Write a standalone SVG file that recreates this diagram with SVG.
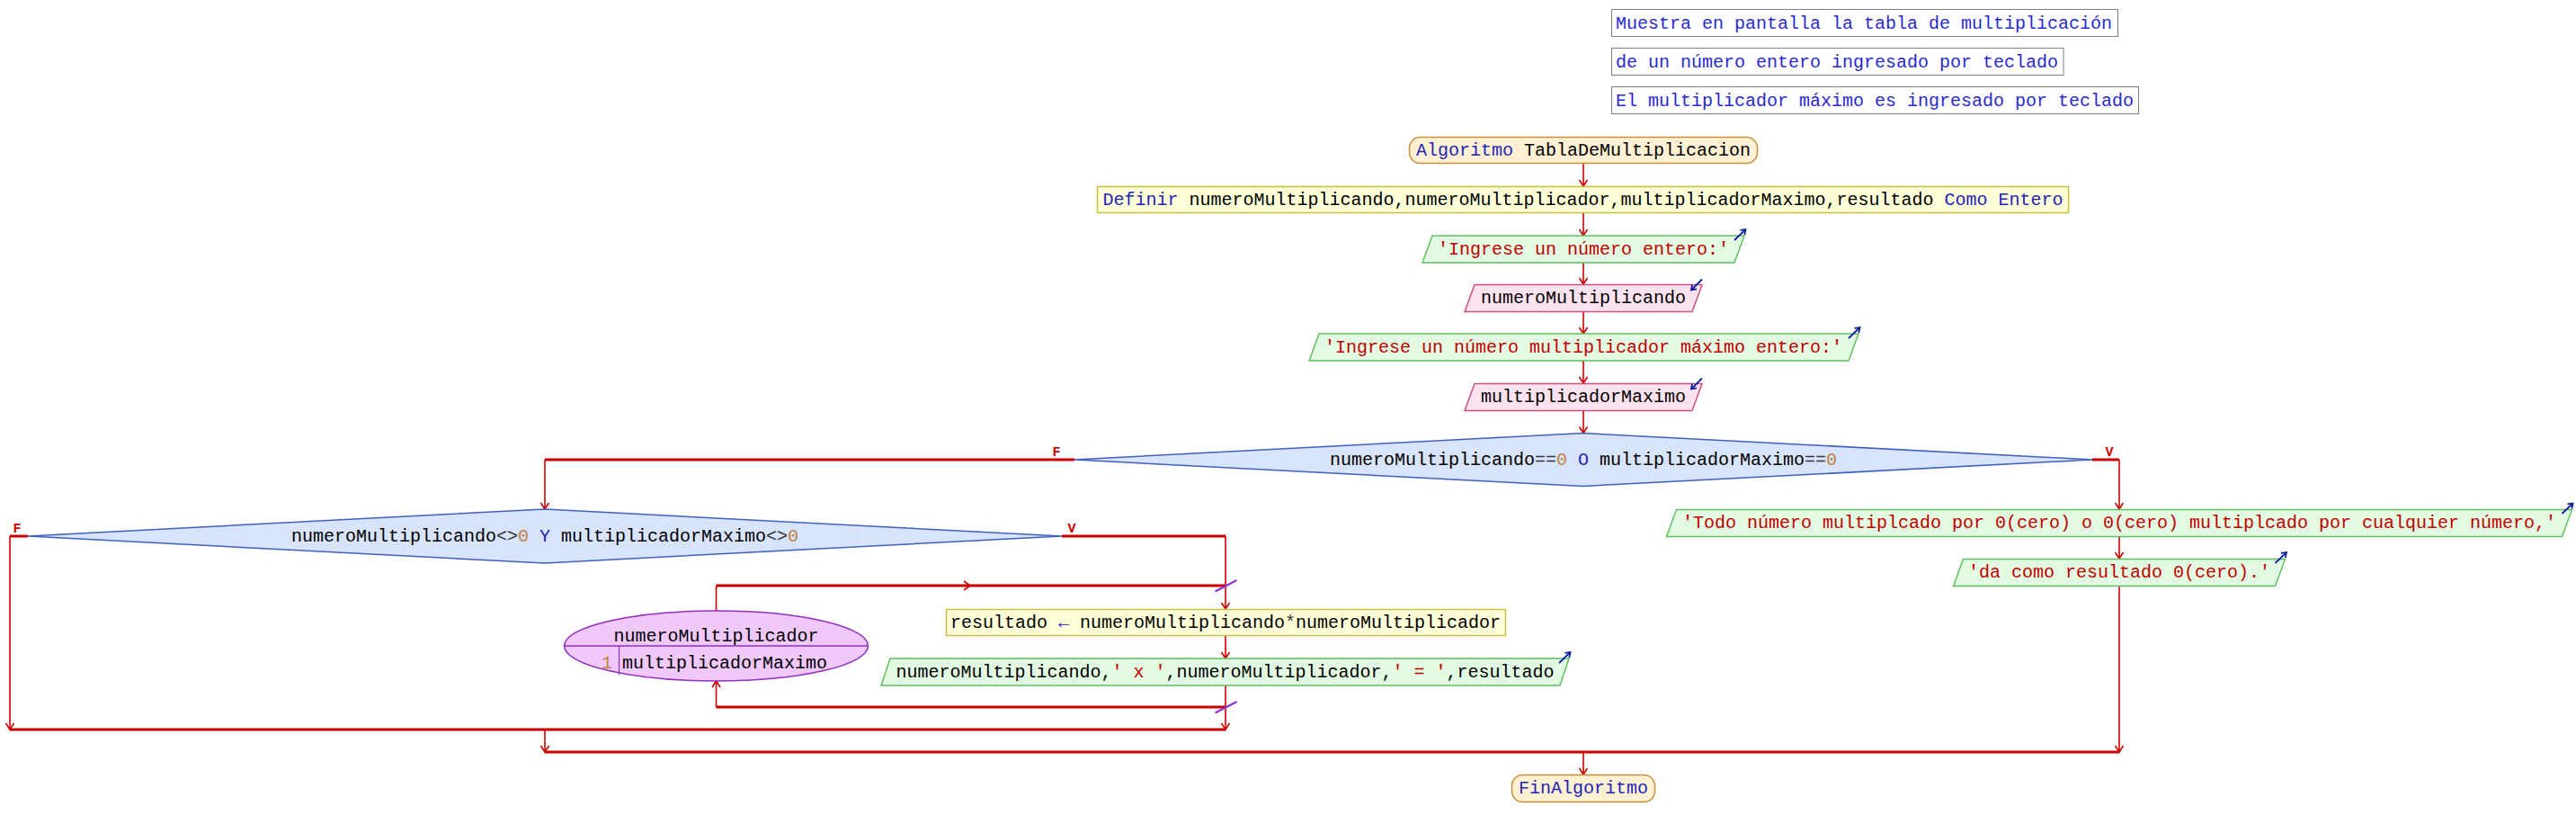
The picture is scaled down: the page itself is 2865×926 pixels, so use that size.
<svg xmlns="http://www.w3.org/2000/svg" width="2865" height="926" viewBox="0 0 2865 926">
<style>
.t{font-family:"Liberation Mono","DejaVu Sans Mono",monospace;font-size:20px;fill:#000}
.m{text-anchor:middle}
.kw{fill:#2424b8}
.st{fill:#c00000}
.nu{fill:#c08040}
.op{fill:#333}
.ar{fill:#2020c0}
.ct{font-family:"Liberation Mono","DejaVu Sans Mono",monospace;font-size:20px;fill:#2a2ad0}
.lb{font-family:"Liberation Mono","DejaVu Sans Mono",monospace;font-size:15px;font-weight:bold;fill:#cc0000;text-anchor:middle}
.cm{fill:#fff;stroke:#808080;stroke-width:1}
.ter{fill:#fff1d2;stroke:#c8903c;stroke-width:1.5}
.asg{fill:#ffffd8;stroke:#c8c040;stroke-width:1.5}
.out{fill:#e2fae2;stroke:#60c060;stroke-width:1.5}
.inp{fill:#fde2ef;stroke:#d05080;stroke-width:1.5}
.dec{fill:#d8e4fc;stroke:#4060c0;stroke-width:1.5}
.lp{fill:#f0c8fc;stroke:#9030c0;stroke-width:1.5}
.h{stroke:#cc0000;stroke-width:3;fill:none}
.v{stroke:#cc0000;stroke-width:1.6;fill:none}
.va{stroke:#cc0000;stroke-width:1.6;fill:none;marker-end:url(#ar)}
.tick{stroke:#9030d0;stroke-width:2}
.ic{stroke:#1020a0;stroke-width:1.8;fill:none;marker-end:url(#ab)}
</style>
<defs>
<marker id="ar" markerUnits="userSpaceOnUse" orient="auto" markerWidth="20" markerHeight="20" refX="0" refY="0" viewBox="-10 -10 20 20" overflow="visible">
<path d="M-7,-4.5 L0,0 L-7,4.5" fill="none" stroke="#cc0000" stroke-width="1.6"/>
</marker>
<marker id="ab" markerUnits="userSpaceOnUse" orient="auto" markerWidth="20" markerHeight="20" refX="0" refY="0" viewBox="-10 -10 20 20" overflow="visible">
<path d="M-5,-3.5 L0,0 L-5,3.5" fill="none" stroke="#1020a0" stroke-width="1.8"/>
</marker>
</defs>
<rect x="0" y="0" width="2865" height="926" fill="#fff"/>

<g id="connectors">
<line class="va" x1="1761" y1="182" x2="1761" y2="207"/>
<line class="va" x1="1761" y1="237" x2="1761" y2="262"/>
<line class="va" x1="1761" y1="292" x2="1761" y2="316"/>
<line class="va" x1="1761" y1="346" x2="1761" y2="371"/>
<line class="va" x1="1761" y1="401" x2="1761" y2="426"/>
<line class="va" x1="1761" y1="456" x2="1761" y2="481.5"/>
<line class="h" x1="1195" y1="511" x2="606" y2="511"/>
<line class="va" x1="606" y1="511" x2="606" y2="566"/>
<line class="h" x1="2327" y1="511" x2="2357" y2="511"/>
<line class="va" x1="2357" y1="511" x2="2357" y2="566"/>
<line class="va" x1="2357" y1="597" x2="2357" y2="621"/>
<line class="va" x1="2357" y1="652" x2="2357" y2="836"/>
<line class="h" x1="31" y1="596" x2="11" y2="596"/>
<line class="va" x1="11" y1="596" x2="11" y2="811"/>
<line class="h" x1="1181" y1="596" x2="1363" y2="596"/>
<line class="va" x1="1363" y1="596" x2="1363" y2="677"/>
<line class="va" x1="1363" y1="707" x2="1363" y2="732"/>
<line class="v" x1="1363" y1="762" x2="1363" y2="786"/>
<line class="va" x1="1363" y1="786" x2="1363" y2="811"/>
<line class="h" x1="1363" y1="786" x2="796.5" y2="786"/>
<line class="va" x1="796.5" y1="786" x2="796.5" y2="757"/>
<line class="v" x1="796.5" y1="679" x2="796.5" y2="651"/>
<line class="h" x1="796.5" y1="651" x2="1363" y2="651"/>
<path class="v" d="M1072,646 L1079,651 L1072,656"/>
<line class="tick" x1="1351.5" y1="657.5" x2="1375.5" y2="645"/>
<line class="tick" x1="1351.5" y1="792.5" x2="1375.5" y2="780"/>
<line class="h" x1="11" y1="811" x2="1363" y2="811"/>
<line class="va" x1="606" y1="811" x2="606" y2="836"/>
<line class="h" x1="606" y1="836" x2="2357" y2="836"/>
<line class="va" x1="1761" y1="836" x2="1761" y2="861"/>
<text class="lb" x="1175" y="507">F</text>
<text class="lb" x="2346" y="507">V</text>
<text class="lb" x="19" y="592">F</text>
<text class="lb" x="1192" y="592">V</text>
</g>

<g id="comment1"><rect class="cm" x="1792.5" y="10.5" width="563" height="30"/><text class="ct" x="1797" y="32">Muestra en pantalla la tabla de multiplicación</text></g>
<g id="comment2"><rect class="cm" x="1792.5" y="53.5" width="502.5" height="30"/><text class="ct" x="1797" y="75">de un número entero ingresado por teclado</text></g>
<g id="comment3"><rect class="cm" x="1792.5" y="96.5" width="586" height="30"/><text class="ct" x="1797" y="118">El multiplicador máximo es ingresado por teclado</text></g>

<g id="inicio"><rect class="ter" x="1567.5" y="152.5" width="387" height="29" rx="12"/><text class="t m" x="1761" y="173"><tspan class="kw">Algoritmo</tspan> TablaDeMultiplicacion</text></g>

<g id="definir"><rect class="asg" x="1220.5" y="207.5" width="1080" height="29"/><text class="t m" x="1760.5" y="228"><tspan class="kw">Definir</tspan> numeroMultiplicando,numeroMultiplicador,multiplicadorMaximo,resultado <tspan class="kw">Como Entero</tspan></text></g>

<g id="escribir1"><polygon class="out" points="1593,262 1940,262 1929,292 1582,292"/><text class="t m st" x="1761" y="283">'Ingrese un número entero:'</text><line class="ic" x1="1929" y1="267" x2="1941.5" y2="255"/></g>

<g id="leer1"><polygon class="inp" points="1640,316.5 1893,316.5 1882,346.5 1629,346.5"/><text class="t m" x="1761" y="337">numeroMultiplicando</text><line class="ic" x1="1893" y1="310.5" x2="1881" y2="322.5"/></g>

<g id="escribir2"><polygon class="out" points="1467,371 2067,371 2056,401 1456,401"/><text class="t m st" x="1761" y="392">'Ingrese un número multiplicador máximo entero:'</text><line class="ic" x1="2056" y1="376" x2="2068.5" y2="364"/></g>

<g id="leer2"><polygon class="inp" points="1640,426.5 1893,426.5 1882,456.5 1629,456.5"/><text class="t m" x="1761" y="447">multiplicadorMaximo</text><line class="ic" x1="1893" y1="420.5" x2="1881" y2="432.5"/></g>

<g id="si1"><polygon class="dec" points="1761,481.5 2327,511 1761,540.5 1195,511"/><text class="t m" x="1761" y="517">numeroMultiplicando<tspan class="op">==</tspan><tspan class="nu">0</tspan> <tspan class="kw">O</tspan> multiplicadorMaximo<tspan class="op">==</tspan><tspan class="nu">0</tspan></text></g>

<g id="si2"><polygon class="dec" points="606,566 1181,596 606,626 31,596"/><text class="t m" x="606" y="602">numeroMultiplicando<tspan class="op">&lt;&gt;</tspan><tspan class="nu">0</tspan> <tspan class="kw">Y</tspan> multiplicadorMaximo<tspan class="op">&lt;&gt;</tspan><tspan class="nu">0</tspan></text></g>

<g id="para"><ellipse class="lp" cx="796.5" cy="718" rx="169" ry="39"/><line x1="627.5" y1="718" x2="965.5" y2="718" stroke="#9030c0" stroke-width="1.5"/><line x1="688.5" y1="718" x2="688.5" y2="750" stroke="#9030c0" stroke-width="1.2"/><text class="t m" x="796.5" y="713">numeroMultiplicador</text><text class="t m nu" x="675" y="743">1</text><text class="t" x="692" y="743">multiplicadorMaximo</text></g>

<g id="asignar"><rect class="asg" x="1052.5" y="677.5" width="622" height="29"/><text class="t m" x="1363" y="698">resultado <tspan class="ar">←</tspan> numeroMultiplicando<tspan class="op">*</tspan>numeroMultiplicador</text></g>

<g id="escribir3"><polygon class="out" points="990,732 1745,732 1735,762 980,762"/><text class="t m" x="1362.5" y="753">numeroMultiplicando,<tspan class="st">' x '</tspan>,numeroMultiplicador,<tspan class="st">' = '</tspan>,resultado</text><line class="ic" x1="1734" y1="737" x2="1746.5" y2="725"/></g>

<g id="escribir4"><polygon class="out" points="1864.5,566.5 2860.5,566.5 2849.5,596.5 1853.5,596.5"/><text class="t m st" x="2357" y="587">'Todo número multiplcado por 0(cero) o 0(cero) multiplcado por cualquier número,'</text><line class="ic" x1="2849.5" y1="571" x2="2861.5" y2="559.5"/></g>

<g id="escribir5"><polygon class="out" points="2183.5,621.5 2541.5,621.5 2530.5,651.5 2172.5,651.5"/><text class="t m st" x="2357" y="642">'da como resultado 0(cero).'</text><line class="ic" x1="2530.5" y1="626" x2="2543" y2="614"/></g>

<g id="fin"><rect class="ter" x="1681.5" y="861.5" width="159" height="30" rx="12"/><text class="t m kw" x="1761" y="882">FinAlgoritmo</text></g>
</svg>
